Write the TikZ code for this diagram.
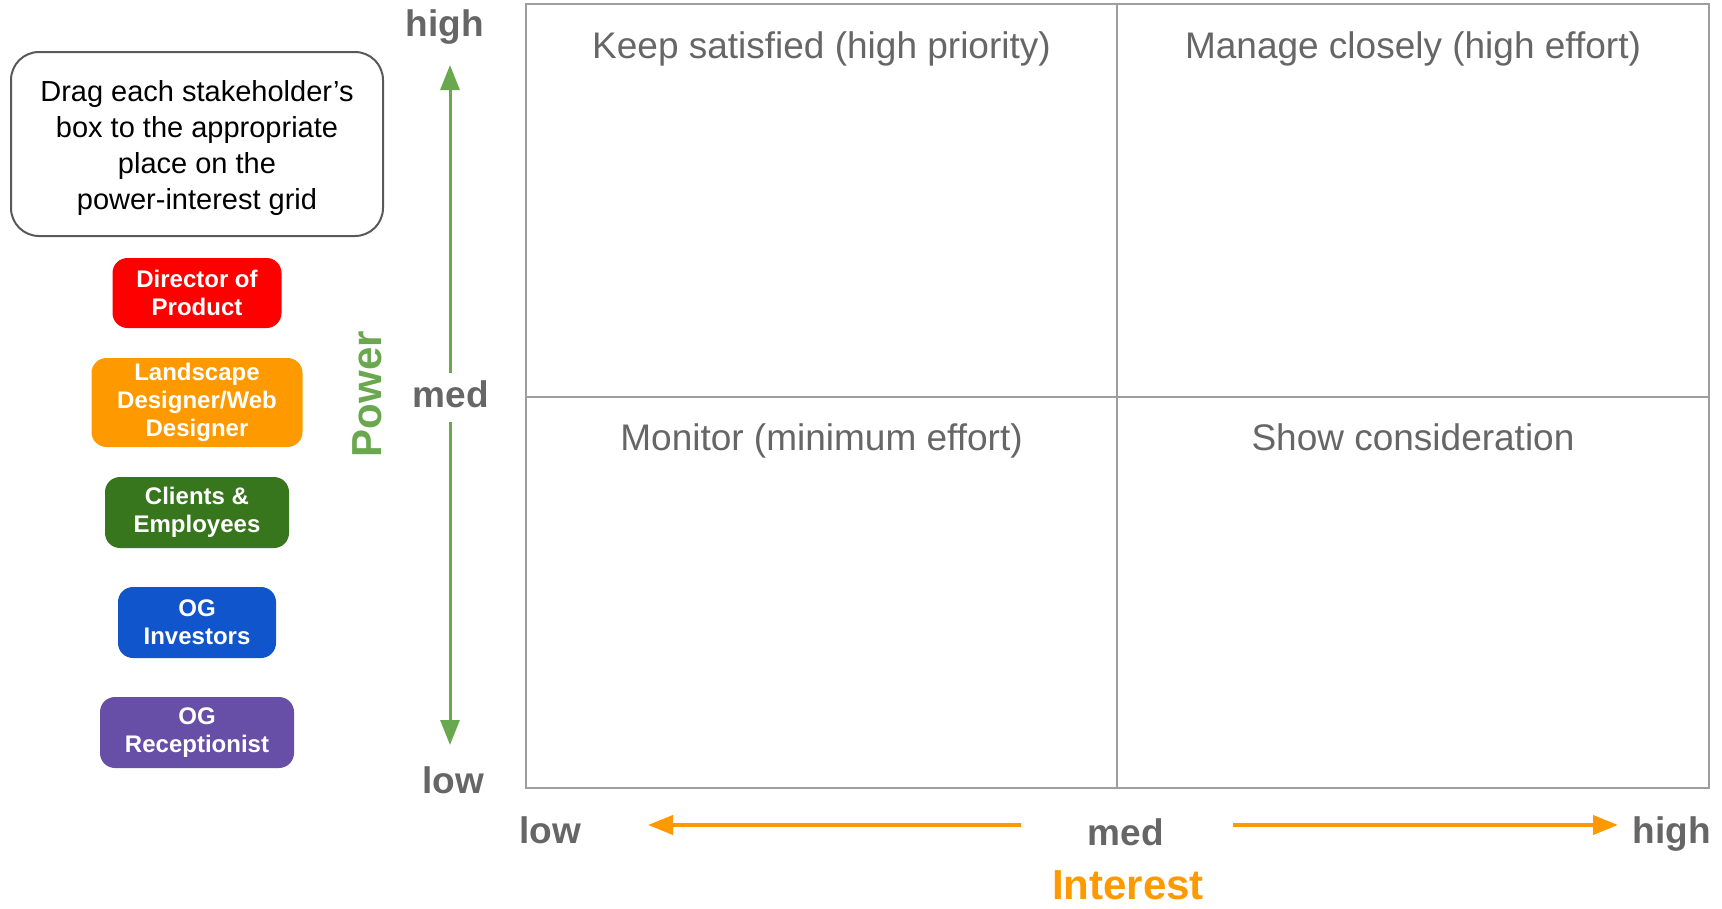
\documentclass[tikz,border=0pt]{standalone}
\usepackage{fontspec}
\setmainfont{Liberation Sans}
\usetikzlibrary{arrows.meta}
\definecolor{txtgray}{HTML}{666666}
\definecolor{gridgray}{HTML}{9E9E9E}
\definecolor{boxgray}{HTML}{595959}
\definecolor{powergreen}{HTML}{6AA84F}
\definecolor{interestorange}{HTML}{FF9900}
\definecolor{dirred}{HTML}{FF0000}
\definecolor{landorange}{HTML}{FF9900}
\definecolor{clientgreen}{HTML}{38761D}
\definecolor{invblue}{HTML}{1155CC}
\definecolor{recpurple}{HTML}{674EA7}
\begin{document}
\begin{tikzpicture}[x=1pt, y=-1pt, > = {Triangle[length=25pt, width=19pt]},
	quadlabel/.style = {anchor=base, text=txtgray, font=\fontsize{37}{44}\selectfont},
	axislabel/.style = {anchor=base, text=txtgray, inner sep=0pt, font=\fontsize{37}{44}\selectfont\bfseries},
	stakebox/.style = {rounded corners=15pt, align=center, text=white, inner sep=0pt, minimum height=71pt, font=\fontsize{24}{28}\selectfont\bfseries}]
	\useasboundingbox (0,0) rectangle (1722,908);
	
	% instruction box
	\node[draw=boxgray, line width=2pt, rounded corners=28pt, minimum width=372pt, minimum height=184pt] (instr) at (197,144) {};
	\node[align=center, font=\fontsize{29}{36}\selectfont] (instrtext) at (197,147.5) {Drag each stakeholder’s\\box to the appropriate\\place on the\\power-interest grid};
	
	% stakeholders
	\node[stakebox, fill=dirred, minimum width=169pt, minimum height=70pt] (director) at (197,293) {Director of\\Product};
	\node[stakebox, fill=landorange, minimum width=211pt, minimum height=89pt] (landscape) at (197,402.5) {Landscape\\Designer/Web\\Designer};
	\node[stakebox, fill=clientgreen, minimum width=184pt] (clients) at (197,512.5) {Clients \&\\Employees};
	\node[stakebox, fill=invblue, minimum width=158pt] (investors) at (197,622.5) {OG\\Investors};
	\node[stakebox, fill=recpurple, minimum width=194pt] (recept) at (197,732.5) {OG\\Receptionist};
	
	% grid
	\draw[gridgray, line width=2pt] (526,4) rectangle (1709,788);
	\draw[gridgray, line width=2pt] (1117,4) -- (1117,788);
	\draw[gridgray, line width=2pt] (526,396.5) -- (1709,396.5);
	
	\node[quadlabel] (keep) at (821.5,58) {Keep satisfied (high priority)};
	\node[quadlabel] (manage) at (1413,58) {Manage closely (high effort)};
	\node[quadlabel] (monitor) at (821.5,450) {Monitor (minimum effort)};
	\node[quadlabel] (show) at (1413,450) {Show consideration};
	
	% power axis
	\node[axislabel] (phigh) at (445,36) {high};
	\node[axislabel] (pmed) at (451,407) {med};
	\node[axislabel] (plow) at (453,793) {low};
	\node[anchor=base, rotate=90, inner sep=0pt, text=powergreen, font=\fontsize{42}{50}\selectfont\bfseries] (power) at (381,394) {Power};
	\coordinate (ptop) at (450,65);
	\coordinate (pgapt) at (450,373);
	\coordinate (pgapb) at (450,422);
	\coordinate (pbot) at (450,745);
	\draw[->, powergreen, line width=3pt] (pgapt) -- (ptop);
	\draw[->, powergreen, line width=3pt] (pgapb) -- (pbot);
	
	% interest axis
	\node[axislabel] (ilow) at (550,843) {low};
	\node[axislabel] (imed) at (1126,845) {med};
	\node[axislabel] (ihigh) at (1672,843) {high};
	\node[anchor=base, inner sep=0pt, text=interestorange, font=\fontsize{42}{50}\selectfont\bfseries] (interest) at (1128,899) {Interest};
	\coordinate (ileft) at (648,825);
	\coordinate (igapl) at (1021,825);
	\coordinate (igapr) at (1233,825);
	\coordinate (iright) at (1618,825);
	\draw[->, interestorange, line width=4pt] (igapl) -- (ileft);
	\draw[->, interestorange, line width=4pt] (igapr) -- (iright);
\end{tikzpicture}
\end{document}
